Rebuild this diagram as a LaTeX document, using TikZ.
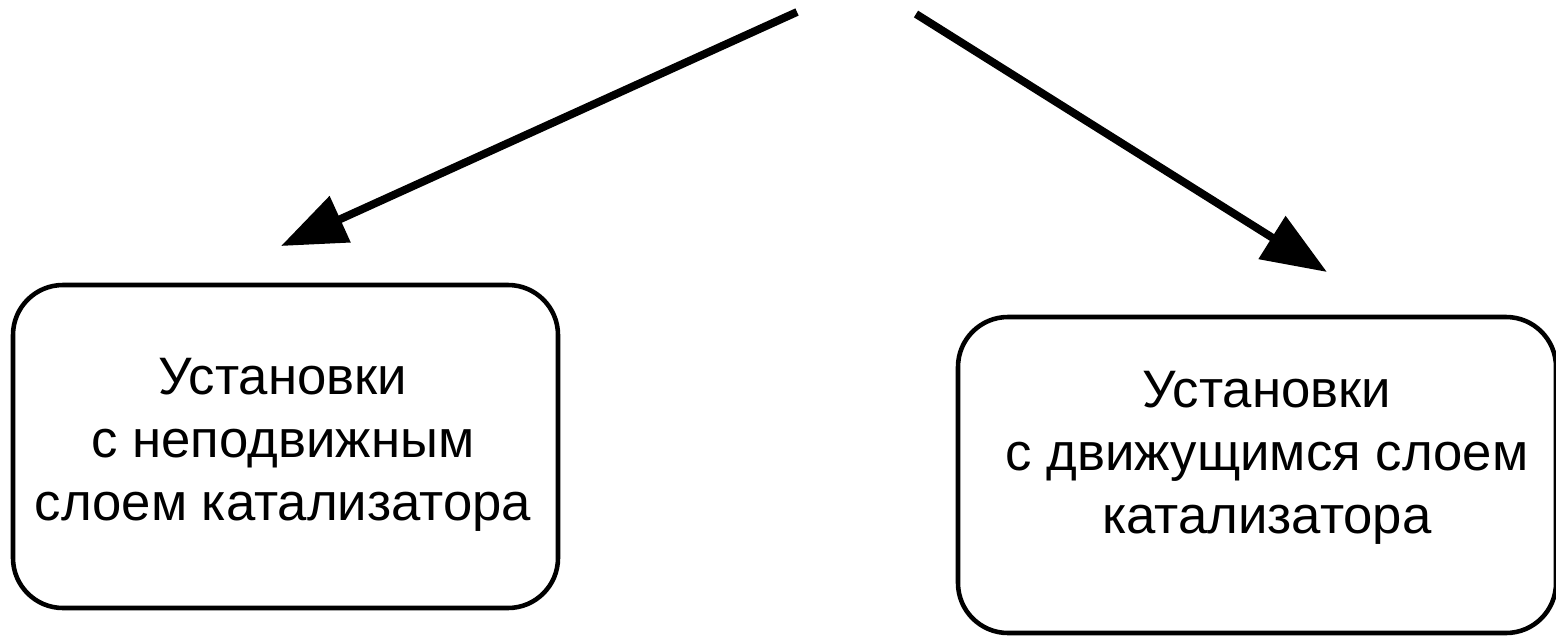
\documentclass[tikz,border=0pt]{standalone}
\usepackage{fontspec}
\setmainfont{Liberation Sans}
\usetikzlibrary{arrows.meta}
\begin{document}
\begin{tikzpicture}[x=0.02cm,y=-0.02cm,
  box/.style={draw=black,line width=2.6pt,rounded corners=1.0cm},
  lbl/.style={align=center,inner sep=0pt,font=\fontsize{30}{36}\selectfont},
  arr/.style={line width=4.5pt,-{Triangle[length=1.3cm,width=0.98cm]}}]
\clip (0,0) rectangle (1556,637);
\fill[white] (0,0) rectangle (1556,637);
\draw[box] (13,285) rectangle (558,608);
\draw[box] (958,317) rectangle (1556,633);
\node[lbl] (lt) at (283,445) {Установки\\с неподвижным\\слоем катализатора};
\node[lbl] (rt) at (1267,458) {Установки\\с движущимся слоем\\катализатора};
\coordinate (s1) at (797,12);
\coordinate (e1) at (281,246);
\coordinate (s2) at (916,14);
\coordinate (e2) at (1327,272);
\draw[arr] (s1) -- (e1);
\draw[arr] (s2) -- (e2);
\end{tikzpicture}
\end{document}
